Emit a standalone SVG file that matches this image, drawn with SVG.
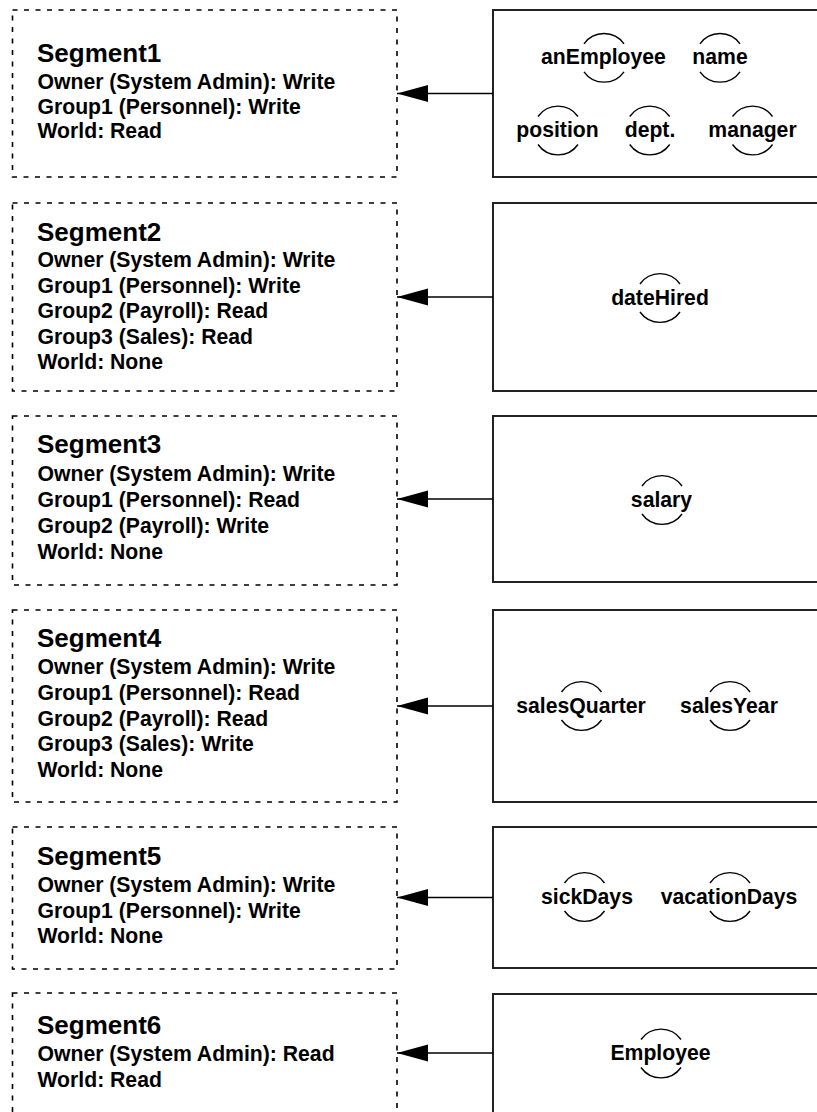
<svg xmlns="http://www.w3.org/2000/svg" xmlns:xlink="http://www.w3.org/1999/xlink" width="817" height="1112" viewBox="0 0 817 1112">
<style>
  .seg { fill: #fff; stroke: #000; stroke-width: 1.6; stroke-dasharray: 5 6.5; }
  .box { fill: #fff; stroke: #222; stroke-width: 2; }
  text { font-family: "Liberation Sans", Arial, Helvetica, sans-serif; font-weight: bold; fill: #000; }
  .title { font-size: 26px; }
  .line { font-size: 21.2px; }
  .lbl { font-size: 21.2px; text-anchor: middle; }
  .arc { fill: none; stroke: #000; stroke-width: 1.4; }
  .conn { stroke: #000; stroke-width: 1.5; fill: none; marker-end: url(#ah); }
</style>
<defs>
  <marker id="ah" markerUnits="userSpaceOnUse" viewBox="0 -9 31 18" refX="31" refY="0" markerWidth="31" markerHeight="18" orient="auto">
    <path d="M0,-8.5 L31,0 L0,8.5 z" fill="#000"/>
  </marker>
  <path id="obj" class="arc" d="M-20,-14 A24.5,24.5 0 0 1 20,-14 M-20,14 A24.5,24.5 0 0 0 20,14"/>
</defs>
<rect width="817" height="1112" fill="#fff"/>

<g id="segment1">
  <rect class="seg" x="12.5" y="10" width="384.5" height="167"/>
  <text class="title" x="37" y="62">Segment1</text>
  <text class="line" x="37.5" y="89">Owner (System Admin): Write</text>
  <text class="line" x="37.5" y="113.5">Group1 (Personnel): Write</text>
  <text class="line" x="37.5" y="138">World: Read</text>
</g>
<g id="segment2">
  <rect class="seg" x="12.5" y="203" width="384.5" height="188"/>
  <text class="title" x="37" y="241">Segment2</text>
  <text class="line" x="37.5" y="267">Owner (System Admin): Write</text>
  <text class="line" x="37.5" y="292.5">Group1 (Personnel): Write</text>
  <text class="line" x="37.5" y="318">Group2 (Payroll): Read</text>
  <text class="line" x="37.5" y="343.5">Group3 (Sales): Read</text>
  <text class="line" x="37.5" y="369">World: None</text>
</g>
<g id="segment3">
  <rect class="seg" x="12.5" y="416" width="384.5" height="169"/>
  <text class="title" x="37" y="453">Segment3</text>
  <text class="line" x="37.5" y="481">Owner (System Admin): Write</text>
  <text class="line" x="37.5" y="507">Group1 (Personnel): Read</text>
  <text class="line" x="37.5" y="533">Group2 (Payroll): Write</text>
  <text class="line" x="37.5" y="559">World: None</text>
</g>
<g id="segment4">
  <rect class="seg" x="12.5" y="610" width="384.5" height="192"/>
  <text class="title" x="37" y="647">Segment4</text>
  <text class="line" x="37.5" y="674">Owner (System Admin): Write</text>
  <text class="line" x="37.5" y="700">Group1 (Personnel): Read</text>
  <text class="line" x="37.5" y="725.5">Group2 (Payroll): Read</text>
  <text class="line" x="37.5" y="751">Group3 (Sales): Write</text>
  <text class="line" x="37.5" y="777">World: None</text>
</g>
<g id="segment5">
  <rect class="seg" x="12.5" y="827" width="384.5" height="142"/>
  <text class="title" x="37" y="865">Segment5</text>
  <text class="line" x="37.5" y="892">Owner (System Admin): Write</text>
  <text class="line" x="37.5" y="918">Group1 (Personnel): Write</text>
  <text class="line" x="37.5" y="943">World: None</text>
</g>
<g id="segment6">
  <rect class="seg" x="12.5" y="993" width="384.5" height="135"/>
  <text class="title" x="37" y="1034">Segment6</text>
  <text class="line" x="37.5" y="1061">Owner (System Admin): Read</text>
  <text class="line" x="37.5" y="1087">World: Read</text>
</g>

<g id="objects1">
  <rect class="box" x="493" y="10" width="340" height="167"/>
  <g id="anEmployee"><use xlink:href="#obj" x="604" y="57.8"/><text class="lbl" x="603.5" y="64.3">anEmployee</text></g>
  <g id="name"><use xlink:href="#obj" x="720" y="57.8"/><text class="lbl" x="720" y="64.3">name</text></g>
  <g id="position"><use xlink:href="#obj" x="558" y="130.5"/><text class="lbl" x="557.5" y="137">position</text></g>
  <g id="dept"><use xlink:href="#obj" x="649.7" y="130.5"/><text class="lbl" x="650" y="137">dept.</text></g>
  <g id="manager"><use xlink:href="#obj" x="752.5" y="130.5"/><text class="lbl" x="752.5" y="137">manager</text></g>
</g>
<g id="objects2">
  <rect class="box" x="493" y="203" width="340" height="188"/>
  <g id="dateHired"><use xlink:href="#obj" x="660" y="298"/><text class="lbl" x="660" y="304.5">dateHired</text></g>
</g>
<g id="objects3">
  <rect class="box" x="493" y="416" width="340" height="166"/>
  <g id="salary"><use xlink:href="#obj" x="662" y="500"/><text class="lbl" x="661.5" y="506.5">salary</text></g>
</g>
<g id="objects4">
  <rect class="box" x="493" y="610" width="340" height="192"/>
  <g id="salesQuarter"><use xlink:href="#obj" x="581.5" y="706"/><text class="lbl" x="581" y="712.5">salesQuarter</text></g>
  <g id="salesYear"><use xlink:href="#obj" x="730" y="706"/><text class="lbl" x="729" y="712.5">salesYear</text></g>
</g>
<g id="objects5">
  <rect class="box" x="493" y="827" width="340" height="141"/>
  <g id="sickDays"><use xlink:href="#obj" x="584.5" y="897"/><text class="lbl" x="587" y="903.5">sickDays</text></g>
  <g id="vacationDays"><use xlink:href="#obj" x="730" y="897"/><text class="lbl" x="729" y="903.5">vacationDays</text></g>
</g>
<g id="objects6">
  <rect class="box" x="493" y="994" width="340" height="135"/>
  <g id="Employee"><use xlink:href="#obj" x="661" y="1053.5"/><text class="lbl" x="660.5" y="1060">Employee</text></g>
</g>

<g id="connectors">
  <line class="conn" x1="493" y1="93.5" x2="397" y2="93.5"/>
  <line class="conn" x1="493" y1="297" x2="397" y2="297"/>
  <line class="conn" x1="493" y1="499" x2="397" y2="499"/>
  <line class="conn" x1="493" y1="706" x2="397" y2="706"/>
  <line class="conn" x1="493" y1="897.5" x2="397" y2="897.5"/>
  <line class="conn" x1="493" y1="1053" x2="397" y2="1053"/>
</g>
</svg>
